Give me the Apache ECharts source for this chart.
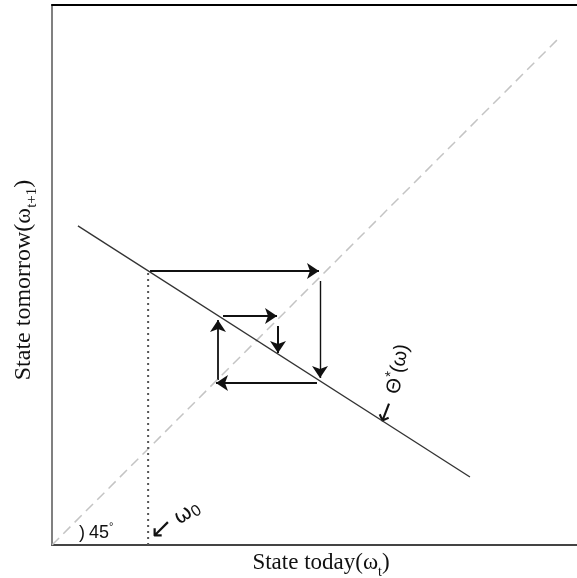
<!DOCTYPE html>
<html>
<head>
<meta charset="utf-8">
<script src="https://cdn.jsdelivr.net/npm/echarts@6/dist/echarts.min.js"></script>
<style>html,body{margin:0;padding:0;background:#fff;}#c{width:577px;height:578px;}</style>
</head>
<body>
<div id="c"></div>
<script>
// Axis ranges (the original figure is cropped at the right edge)
var xRange = [0, 0.9722];
var yRange = [0, 1];
// Policy line theta*(omega): two end points [x, y]
var policyLine = [[0.048, 0.591], [0.774, 0.126]];
// 45 degree line
var diagonal = [[0, 0], [0.935, 0.935]];
// initial state omega_0 (dotted vertical)
var omega0 = [[0.178, 0], [0.178, 0.507]];
// cobweb arrows: [x1, y1, x2, y2, width]
var arrows = [
  [0.1815, 0.5074, 0.4944, 0.5074, 2.2],
  [0.4963, 0.4889, 0.4963, 0.3093, 1.4],
  [0.4907, 0.3000, 0.3037, 0.3000, 1.8],
  [0.3074, 0.3056, 0.3074, 0.4167, 1.8],
  [0.3167, 0.4241, 0.4167, 0.4241, 2.0],
  [0.4185, 0.4056, 0.4185, 0.3556, 2.0]
];

var chart = echarts.init(document.getElementById('c'), null, {renderer: 'canvas'});
var hidden = {axisTick: {show: false}, axisLabel: {show: false}, splitLine: {show: false}};
var option = {
  animation: false,
  backgroundColor: '#fff',
  grid: {left: 52, top: 5, right: 0, bottom: 33, containLabel: false},
  xAxis: [
    Object.assign({type: 'value', min: xRange[0], max: xRange[1], position: 'bottom',
      axisLine: {show: true, onZero: false, lineStyle: {color: '#444', width: 2}}}, hidden),
    Object.assign({type: 'value', min: xRange[0], max: xRange[1], position: 'top',
      axisLine: {show: true, onZero: false, lineStyle: {color: '#000', width: 2}}}, hidden)
  ],
  yAxis: [
    Object.assign({type: 'value', min: yRange[0], max: yRange[1], position: 'left',
      axisLine: {show: true, onZero: false, lineStyle: {color: '#808080', width: 2}}}, hidden)
  ],
  series: [
    {type: 'line', data: diagonal, showSymbol: false, silent: true,
      lineStyle: {color: '#c4c4c4', width: 1.5, type: [10, 6]}},
    {type: 'line', data: omega0, showSymbol: false, silent: true,
      lineStyle: {color: '#555', width: 2, type: [2, 4]}},
    {type: 'line', data: policyLine, showSymbol: false, silent: true,
      lineStyle: {color: '#333', width: 1.3}},
    {type: 'lines', coordinateSystem: 'cartesian2d', silent: true,
      symbol: ['none', 'arrow'], symbolSize: [8, 12],
      lineStyle: {color: '#111', opacity: 1},
      data: arrows.map(function (a) {
        return {coords: [[a[0], a[1]], [a[2], a[3]]], lineStyle: {width: a[4], color: '#111'}};
      })}
  ],
  graphic: [
    {type: 'text', x: 321, y: 563, style: {
      text: '{m|State today(ω}{s|t}{m|)}', align: 'center', verticalAlign: 'middle',
      rich: {
        m: {fontFamily: 'Liberation Serif', fontSize: 23, lineHeight: 32, fill: '#111', verticalAlign: 'middle'},
        s: {fontFamily: 'Liberation Serif', fontSize: 14, lineHeight: 14, fill: '#111', verticalAlign: 'bottom'}
      }}},
    {type: 'text', x: 24, y: 280, rotation: Math.PI / 2, style: {
      text: '{m|State tomorrow(ω}{s|t+1}{m|)}', align: 'center', verticalAlign: 'middle',
      rich: {
        m: {fontFamily: 'Liberation Serif', fontSize: 24, lineHeight: 32, fill: '#111', verticalAlign: 'middle'},
        s: {fontFamily: 'Liberation Serif', fontSize: 15, lineHeight: 15, fill: '#111', verticalAlign: 'bottom'}
      }}},
    {type: 'text', x: 79, y: 533, style: {
      text: '{a|)}{c|45}{b|°}', align: 'left', verticalAlign: 'middle',
      rich: {
        a: {fontFamily: 'Liberation Sans', fontSize: 18, lineHeight: 24, fill: '#111', verticalAlign: 'middle'},
        c: {fontFamily: 'Liberation Sans', fontSize: 18, lineHeight: 24, fill: '#111', verticalAlign: 'middle', padding: [0, 0, 0, 4]},
        b: {fontFamily: 'Liberation Sans', fontSize: 11, lineHeight: 11, fill: '#111', verticalAlign: 'top'}
      }}},
    {type: 'text', x: 187, y: 513, rotation: 0.6, style: {
      text: '{a|ω}{b|0}', align: 'center', verticalAlign: 'middle',
      rich: {
        a: {fontFamily: 'DejaVu Sans', fontSize: 21, lineHeight: 24, fill: '#111', verticalAlign: 'middle'},
        b: {fontFamily: 'Liberation Sans', fontSize: 16, lineHeight: 16, fill: '#111', verticalAlign: 'bottom'}
      }}},
    {type: 'text', x: 162, y: 530, rotation: Math.PI / 4, style: {
      text: '←', align: 'center', verticalAlign: 'middle',
      fontFamily: 'DejaVu Sans', fontSize: 27, fill: '#111'}},
    {type: 'text', x: 398, y: 369, rotation: 1.38, style: {
      text: '{a|Θ}{b|*}{a|(ω)}', align: 'center', verticalAlign: 'middle',
      rich: {
        a: {fontFamily: 'Liberation Sans', fontSize: 20, lineHeight: 26, fill: '#111', verticalAlign: 'middle'},
        b: {fontFamily: 'Liberation Sans', fontSize: 15, lineHeight: 15, fill: '#111', verticalAlign: 'top'}
      }}},
    {type: 'text', x: 387, y: 413, rotation: 1.2, style: {
      text: '←', align: 'center', verticalAlign: 'middle',
      fontFamily: 'DejaVu Sans', fontSize: 26, fill: '#111'}}
  ]
};
chart.setOption(option);
</script>
</body>
</html>
